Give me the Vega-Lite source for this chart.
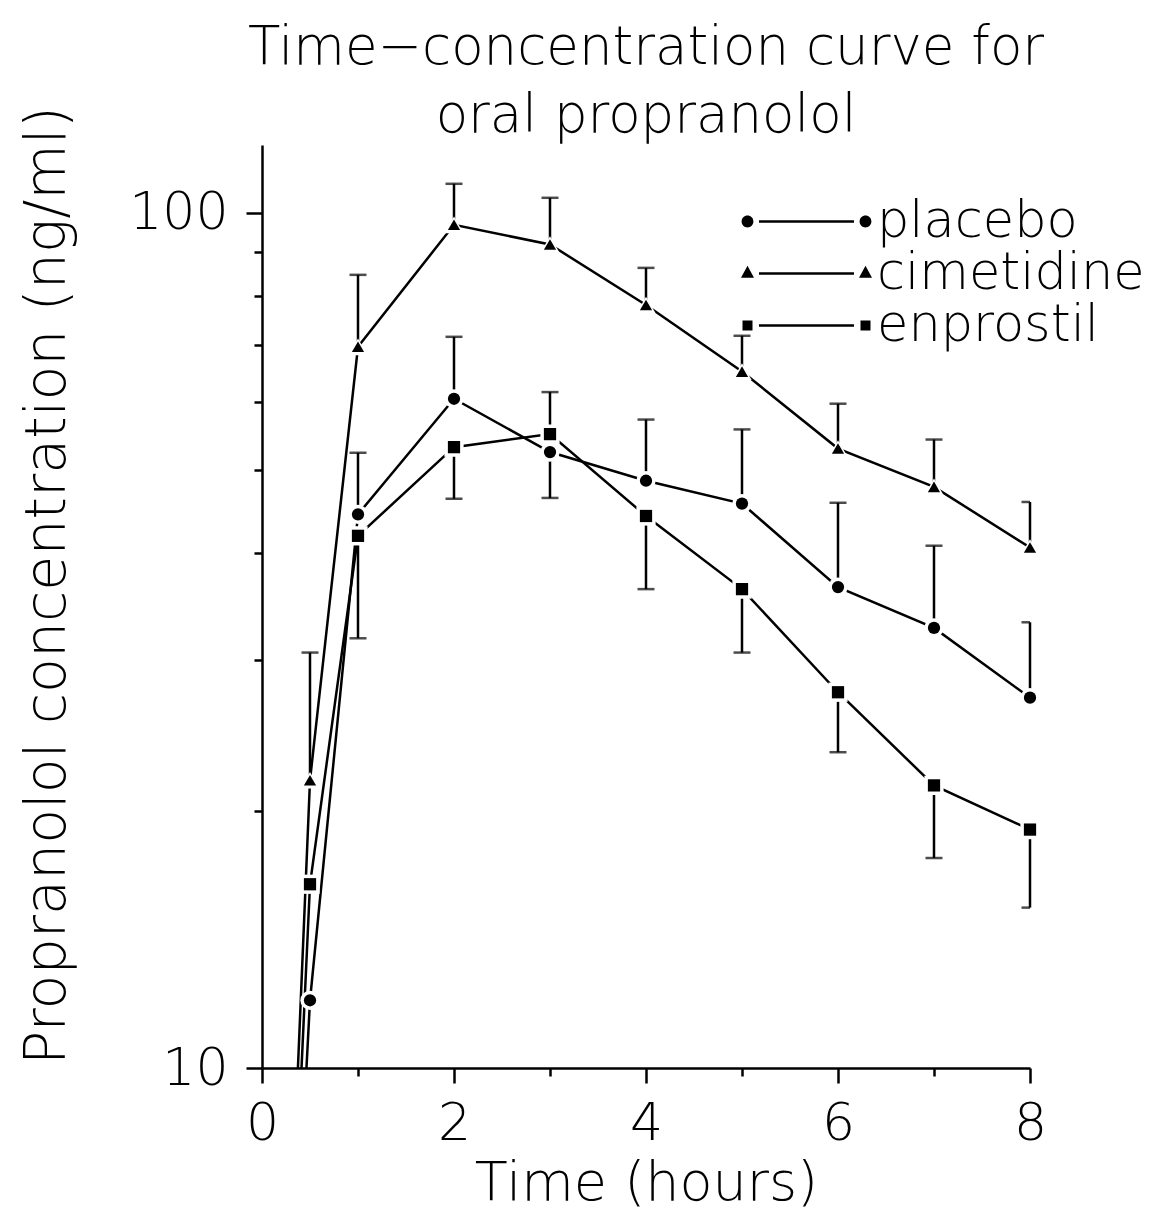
{
  "$schema": "https://vega.github.io/schema/vega-lite/v6.json",
  "width": 768,
  "height": 923,
  "autosize": {"type": "none"},
  "padding": {"left": 262, "top": 145, "right": 126, "bottom": 143},
  "background": "white",
  "config": {
    "view": {"stroke": null},
    "font": "DejaVu Sans",
    "axis": {
      "grid": false,
      "domainColor": "black",
      "domainWidth": 2.5,
      "tickColor": "black",
      "tickWidth": 2.5,
      "labelColor": "black",
      "titleColor": "black",
      "labelFont": "DejaVu Sans",
      "titleFont": "DejaVu Sans",
      "labelFontWeight": 200,
      "titleFontWeight": 200
    }
  },
  "title": {
    "text": ["Time−concentration curve for", "oral propranolol"],
    "font": "DejaVu Sans",
    "fontSize": 53,
    "fontWeight": 200,
    "lineHeight": 68,
    "frame": "group",
    "offset": -37,
    "anchor": "middle",
    "color": "black"
  },
  "datasets": {
    "pk": [
      {"group": "placebo", "time": 0, "conc": 1, "bar_end": null},
      {"group": "placebo", "time": 0.5, "conc": 12.0, "bar_end": null},
      {"group": "placebo", "time": 1, "conc": 44.4, "bar_end": 52.4},
      {"group": "placebo", "time": 2, "conc": 60.6, "bar_end": 71.6},
      {"group": "placebo", "time": 3, "conc": 52.5, "bar_end": 46.4},
      {"group": "placebo", "time": 4, "conc": 48.6, "bar_end": 57.3},
      {"group": "placebo", "time": 5, "conc": 45.7, "bar_end": 55.8},
      {"group": "placebo", "time": 6, "conc": 36.5, "bar_end": 45.8},
      {"group": "placebo", "time": 7, "conc": 32.7, "bar_end": 40.8},
      {"group": "placebo", "time": 8, "conc": 27.1, "bar_end": 33.2},
      {"group": "cimetidine", "time": 0, "conc": 1, "bar_end": null},
      {"group": "cimetidine", "time": 0.5, "conc": 21.7, "bar_end": 30.6},
      {"group": "cimetidine", "time": 1, "conc": 69.7, "bar_end": 84.6},
      {"group": "cimetidine", "time": 2, "conc": 96.8, "bar_end": 108.1},
      {"group": "cimetidine", "time": 3, "conc": 91.8, "bar_end": 104.1},
      {"group": "cimetidine", "time": 4, "conc": 78.0, "bar_end": 86.2},
      {"group": "cimetidine", "time": 5, "conc": 65.2, "bar_end": 71.8},
      {"group": "cimetidine", "time": 6, "conc": 53.0, "bar_end": 59.8},
      {"group": "cimetidine", "time": 7, "conc": 47.8, "bar_end": 54.3},
      {"group": "cimetidine", "time": 8, "conc": 40.6, "bar_end": 45.9},
      {"group": "enprostil", "time": 0, "conc": 1, "bar_end": null},
      {"group": "enprostil", "time": 0.5, "conc": 16.4, "bar_end": null},
      {"group": "enprostil", "time": 1, "conc": 41.9, "bar_end": 31.8},
      {"group": "enprostil", "time": 2, "conc": 53.2, "bar_end": 46.3},
      {"group": "enprostil", "time": 3, "conc": 55.1, "bar_end": 61.7},
      {"group": "enprostil", "time": 4, "conc": 44.2, "bar_end": 36.3},
      {"group": "enprostil", "time": 5, "conc": 36.3, "bar_end": 30.6},
      {"group": "enprostil", "time": 6, "conc": 27.5, "bar_end": 23.4},
      {"group": "enprostil", "time": 7, "conc": 21.4, "bar_end": 17.6},
      {"group": "enprostil", "time": 8, "conc": 19.0, "bar_end": 15.4}
    ]
  },
  "data": {"name": "pk"},
  "encoding": {
    "x": {
      "field": "time",
      "type": "quantitative",
      "scale": {"domain": [0, 8], "nice": false, "zero": false},
      "axis": {
        "title": "Time (hours)",
        "values": [0, 1, 2, 3, 4, 5, 6, 7, 8],
        "labelExpr": "datum.value % 2 === 0 ? datum.label : ''",
        "tickSize": {"condition": {"test": "datum.value % 2 === 0", "value": 15}, "value": 8},
        "labelPadding": 15,
        "labelFontSize": 52,
        "labelFlush": false,
        "titleFontSize": 54,
        "titleBaseline": "alphabetic",
        "titleY": 131
      }
    }
  },
  "layer": [
    {
      "mark": {"type": "line", "color": "black", "strokeWidth": 2.5, "clip": true},
      "encoding": {
        "y": {
          "field": "conc",
          "type": "quantitative",
          "scale": {"type": "log", "domain": [10, 120], "nice": false},
          "axis": {
            "title": "Propranolol concentration (ng/ml)",
            "values": [10, 20, 30, 40, 50, 60, 70, 80, 90, 100],
            "format": "d",
            "labelExpr": "datum.value === 10 || datum.value === 100 ? datum.label : ''",
            "tickSize": {"condition": {"test": "datum.value === 10 || datum.value === 100", "value": 16}, "value": 8},
            "labelPadding": 18,
            "labelFontSize": 52,
            "labelFlush": false,
            "titleFontSize": 57,
            "titleAngle": -90,
            "titleBaseline": "alphabetic",
            "titleAlign": "center",
            "titleX": -198,
            "titleY": 440
          }
        },
        "detail": {"field": "group"},
        "order": {"field": "time"}
      }
    },
    {
      "transform": [{"filter": "isValid(datum.bar_end)"}],
      "mark": {"type": "rule", "color": "black", "strokeWidth": 2.5},
      "encoding": {
        "y": {"field": "conc", "type": "quantitative", "scale": {"type": "log", "domain": [10, 120], "nice": false}},
        "y2": {"field": "bar_end"}
      }
    },
    {
      "transform": [{"filter": "isValid(datum.bar_end)"}],
      "mark": {"type": "tick", "orient": "horizontal", "color": "black", "size": 17, "thickness": 2.5, "clip": true},
      "encoding": {
        "y": {"field": "bar_end", "type": "quantitative", "scale": {"type": "log", "domain": [10, 120], "nice": false}}
      }
    },
    {
      "transform": [{"filter": "datum.time > 0"}],
      "mark": {"type": "point", "filled": true, "color": "white", "size": 370, "opacity": 1},
      "encoding": {
        "y": {"field": "conc", "type": "quantitative", "scale": {"type": "log", "domain": [10, 120], "nice": false}},
        "shape": {
          "field": "group",
          "type": "nominal",
          "scale": {"domain": ["placebo", "cimetidine", "enprostil"], "range": ["circle", "triangle-up", "square"]},
          "legend": null
        }
      }
    },
    {
      "transform": [{"filter": "datum.time > 0"}],
      "mark": {"type": "point", "filled": true, "color": "black", "size": 150, "opacity": 1},
      "encoding": {
        "y": {"field": "conc", "type": "quantitative", "scale": {"type": "log", "domain": [10, 120], "nice": false}},
        "shape": {
          "field": "group",
          "type": "nominal",
          "scale": {"domain": ["placebo", "cimetidine", "enprostil"], "range": ["circle", "triangle-up", "square"]},
          "legend": null
        }
      }
    },
    {
      "transform": [{"filter": "datum.time === 0"}],
      "mark": {"type": "point", "filled": true, "color": "black", "size": 2500, "opacity": 1, "clip": true},
      "encoding": {
        "y": {"field": "conc", "type": "quantitative", "scale": {"type": "log", "domain": [10, 120], "nice": false}},
        "shape": {
          "field": "group",
          "type": "nominal",
          "scale": {
            "domain": ["placebo", "cimetidine", "enprostil"],
            "range": [
              "M -2.596 0 A 0.236 0.236 0 1 0 -2.124 0 A 0.236 0.236 0 1 0 -2.596 0 Z M 2.124 0 A 0.236 0.236 0 1 0 2.596 0 A 0.236 0.236 0 1 0 2.124 0 Z M -1.9 -0.052 L 1.9 -0.052 L 1.9 0.052 L -1.9 0.052 Z",
              "M -2.36 -0.307 L -2.1 0.165 L -2.62 0.165 Z M 2.36 -0.307 L 2.62 0.165 L 2.1 0.165 Z M -1.9 -0.052 L 1.9 -0.052 L 1.9 0.052 L -1.9 0.052 Z",
              "M -2.56 -0.2 L -2.16 -0.2 L -2.16 0.2 L -2.56 0.2 Z M 2.16 -0.2 L 2.56 -0.2 L 2.56 0.2 L 2.16 0.2 Z M -1.9 -0.052 L 1.9 -0.052 L 1.9 0.052 L -1.9 0.052 Z"
            ]
          },
          "legend": {
            "title": null,
            "orient": "none",
            "legendX": 519,
            "legendY": 51,
            "padding": 0,
            "symbolSize": 2500,
            "symbolFillColor": "black",
            "symbolStrokeWidth": 0,
            "symbolOpacity": 1,
            "labelFontSize": 51,
            "labelFont": "DejaVu Sans",
            "labelFontWeight": 200,
            "labelColor": "black",
            "labelLimit": 0,
            "labelOffset": 45,
            "rowPadding": 0
          }
        }
      }
    }
  ],
  "resolve": {"scale": {"shape": "independent"}}
}
